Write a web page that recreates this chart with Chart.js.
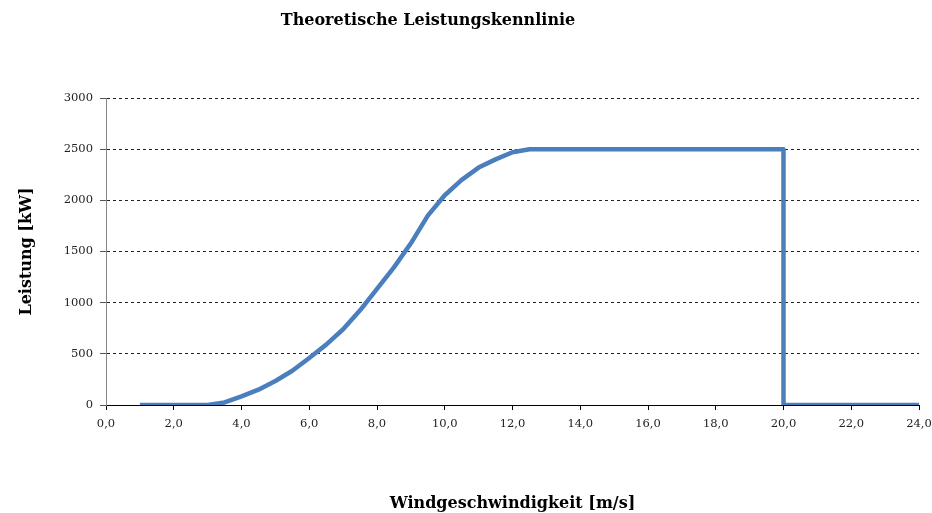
<!DOCTYPE html>
<html>
<head>
<meta charset="utf-8">
<script src="https://cdn.jsdelivr.net/npm/chart.js@4/dist/chart.umd.min.js"></script>
<style>
html,body{margin:0;padding:0;background:#fff;}
#wrap{width:932px;height:513px;}
</style>
</head>
<body>
<div id="wrap"><canvas id="c" width="932" height="513"></canvas></div>
<script>
const chartTitle = 'Theoretische Leistungskennlinie';
const xTitle = 'Windgeschwindigkeit [m/s]';
const yTitle = 'Leistung [kW]';
const windSpeed = [1, 2, 3, 3.5, 4, 4.5, 5, 5.5, 6, 6.5, 7, 7.5, 8, 8.5, 9, 9.5, 10, 10.5, 11, 11.5, 12, 12.5, 20, 20, 24];
const power     = [0, 0, 0, 25, 85, 150, 235, 335, 460, 590, 740, 925, 1135, 1345, 1580, 1850, 2050, 2200, 2320, 2400, 2470, 2500, 2500, 0, 0];
const xTicks = [0, 2, 4, 6, 8, 10, 12, 14, 16, 18, 20, 22, 24];
const yTicks = [0, 500, 1000, 1500, 2000, 2500, 3000];

const serif = '"DejaVu Serif", "Liberation Serif", serif';

const titlePlugin = {
  id: 'topTitle',
  afterDraw(chart) {
    const ctx = chart.ctx;
    ctx.save();
    ctx.font = 'bold 16px ' + serif;
    ctx.fillStyle = '#000';
    ctx.textAlign = 'center';
    ctx.textBaseline = 'middle';
    ctx.fillText(chartTitle, 428, 21);
    ctx.restore();
  }
};

new Chart(document.getElementById('c'), {
  type: 'line',
  data: {
    datasets: [{
      data: windSpeed.map((x, i) => ({x: x, y: power[i]})),
      borderColor: '#4a7ebd',
      borderWidth: 4.5,
      pointRadius: 0,
      tension: 0,
      fill: false,
      borderJoinStyle: 'round',
      borderCapStyle: 'butt'
    }]
  },
  plugins: [titlePlugin],
  options: {
    responsive: false,
    devicePixelRatio: 1,
    animation: false,
    layout: {padding: {left: 0, right: 13, top: 98, bottom: 0}},
    plugins: {legend: {display: false}, tooltip: {enabled: false}, title: {display: false}},
    scales: {
      x: {
        type: 'linear',
        min: 0, max: 24,
        afterBuildTicks(scale) { scale.ticks = xTicks.map(v => ({value: v})); },
        afterFit(scale) { scale.height = 108; scale.paddingRight = 13; scale.paddingLeft = 0; },
        ticks: {
          callback: v => v.toFixed(1).replace('.', ','),
          font: {family: serif, size: 11.5},
          color: '#222',
          padding: 7,
          maxRotation: 0,
          autoSkip: false
        },
        grid: {drawOnChartArea: false, drawTicks: true, tickLength: 5, tickColor: '#000', tickWidth: 1},
        border: {display: true, color: '#000', width: 1},
        title: {display: true, text: xTitle, font: {family: serif, size: 16, weight: 'bold'}, color: '#000', padding: {top: 0, bottom: 0}}
      },
      y: {
        type: 'linear',
        min: 0, max: 3000,
        afterBuildTicks(scale) { scale.ticks = yTicks.map(v => ({value: v})); },
        afterFit(scale) { scale.width = 106; },
        ticks: {
          callback: v => String(v),
          font: {family: serif, size: 11.5},
          color: '#222',
          padding: 7
        },
        grid: {color: '#222', lineWidth: 1, drawTicks: true, tickLength: 6, tickColor: '#555', tickBorderDash: []},
        border: {display: true, color: '#888', width: 1, dash: [3, 3]},
        title: {display: true, text: yTitle, font: {family: serif, size: 16, weight: 'bold'}, color: '#000', padding: {top: 17, bottom: 0}}
      }
    }
  }
});
</script>
</body>
</html>
